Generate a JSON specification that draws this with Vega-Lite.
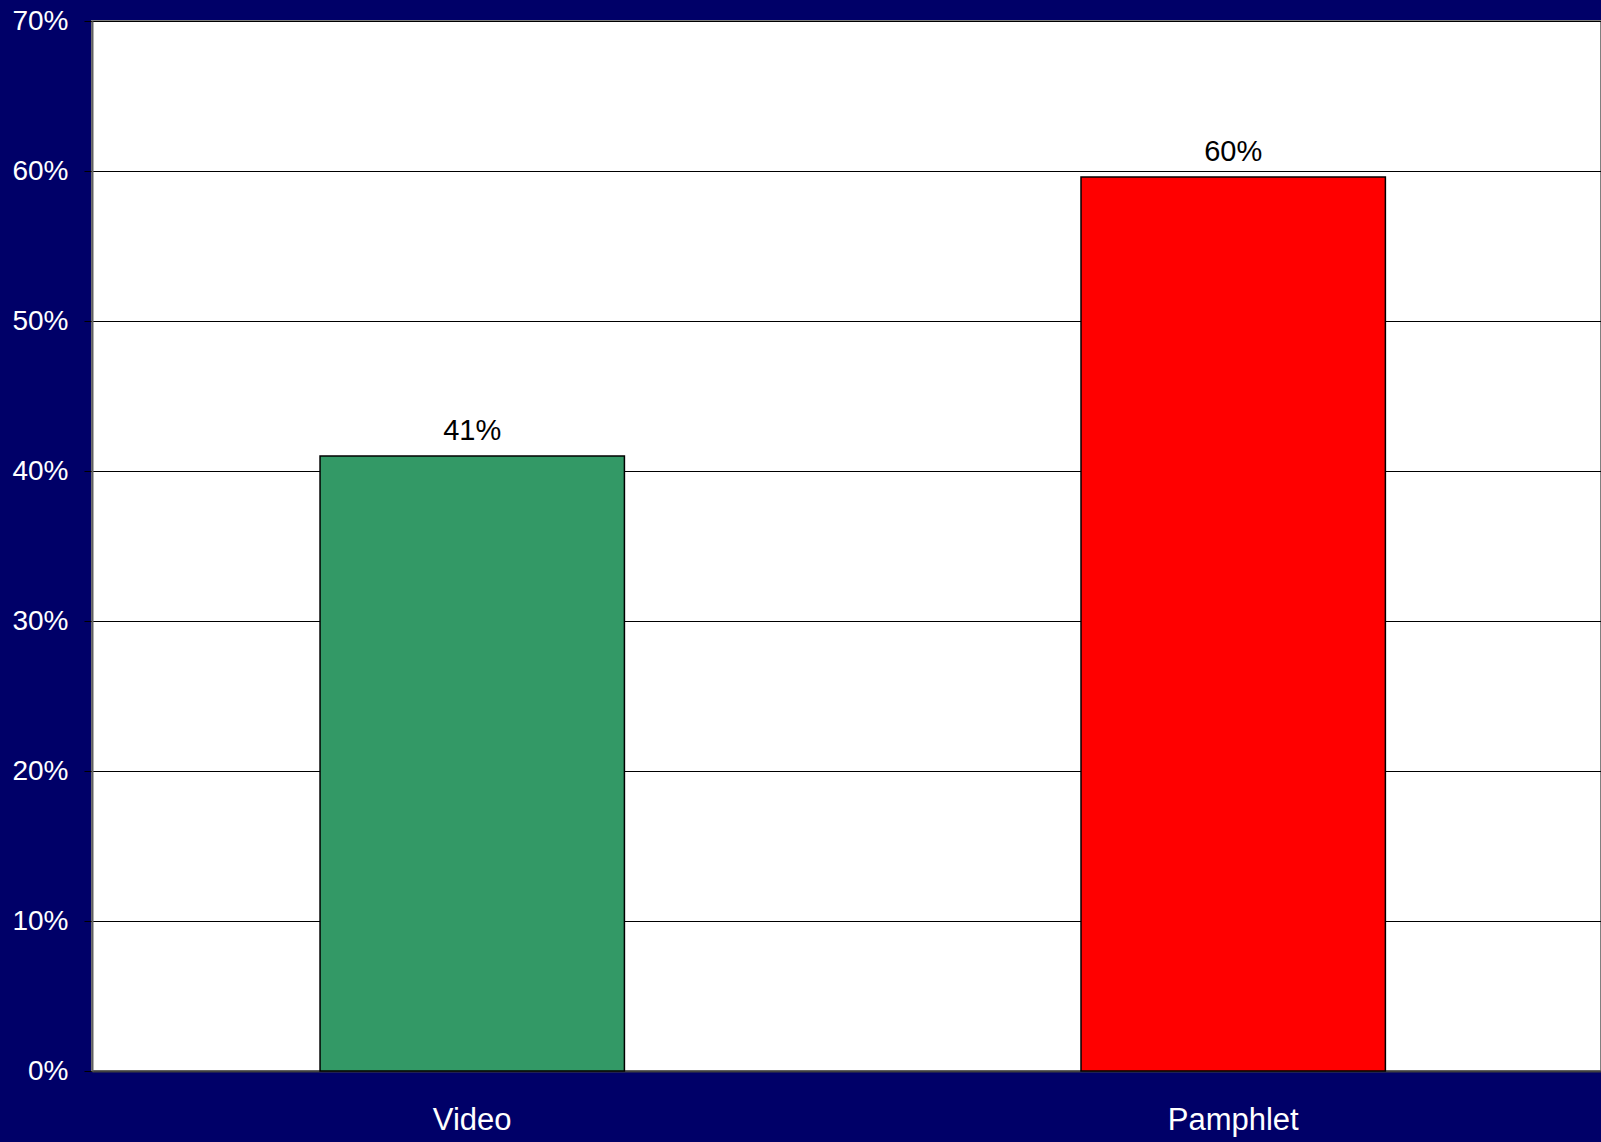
{
  "$schema": "https://vega.github.io/schema/vega-lite/v6.json",
  "width": 1509,
  "height": 1050,
  "autosize": {"type": "none"},
  "padding": {"left": 92, "top": 21, "right": 0, "bottom": 71},
  "background": "#000068",
  "config": {
    "font": "Liberation Sans",
    "view": {"fill": "white", "stroke": "#808080", "strokeWidth": 2}
  },
  "data": {
    "values": [
      {"method": "Video", "share": 0.41},
      {"method": "Pamphlet", "share": 0.596}
    ]
  },
  "encoding": {
    "x": {
      "field": "method",
      "type": "nominal",
      "sort": null,
      "scale": {"paddingInner": 0.6, "paddingOuter": 0.2915, "align": 0.514},
      "axis": {
        "title": null,
        "labelAngle": 0,
        "labelColor": "white",
        "labelFontSize": 31,
        "labelBaseline": "top",
        "labelPadding": 34,
        "ticks": false,
        "tickSize": 0,
        "domainColor": "#404040",
        "domainWidth": 2
      }
    },
    "y": {
      "field": "share",
      "type": "quantitative",
      "scale": {"domain": [0, 0.7], "nice": false},
      "axis": {
        "title": null,
        "format": ".0%",
        "values": [0, 0.1, 0.2, 0.3, 0.4, 0.5, 0.6, 0.7],
        "labelColor": "white",
        "labelFontSize": 28,
        "labelPadding": 16,
        "tickSize": 8,
        "tickColor": "black",
        "grid": true,
        "gridColor": "black",
        "gridOpacity": 1,
        "gridWidth": 1,
        "domainColor": "#606060",
        "domainWidth": 2
      }
    }
  },
  "layer": [
    {
      "mark": {"type": "bar", "stroke": "black", "strokeWidth": 1.5},
      "encoding": {
        "color": {
          "field": "method",
          "type": "nominal",
          "scale": {"domain": ["Video", "Pamphlet"], "range": ["#339966", "#ff0000"]},
          "legend": null
        }
      }
    },
    {
      "mark": {"type": "text", "baseline": "alphabetic", "dy": -16, "fontSize": 29, "color": "black"},
      "encoding": {
        "text": {"field": "share", "type": "quantitative", "format": ".0%"}
      }
    }
  ]
}
